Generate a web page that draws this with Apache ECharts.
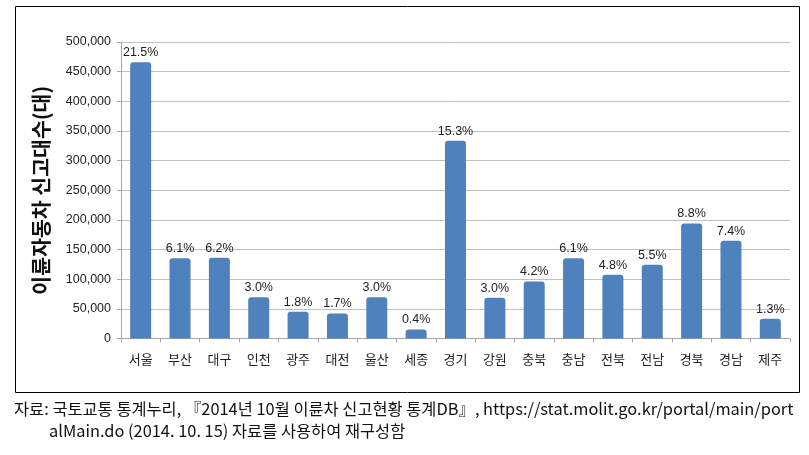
<!DOCTYPE html>
<html><head><meta charset="utf-8">
<script src="https://cdn.jsdelivr.net/npm/echarts@6/dist/echarts.min.js"></script>
<style>html,body{margin:0;padding:0;background:#fff}#c{width:809px;height:455px}</style>
</head><body><div id="c"></div>
<script>
var categories = ['서울','부산','대구','인천','광주','대전','울산','세종','경기','강원','충북','충남','전북','전남','경북','경남','제주'];
var counts = [466000,135400,136000,69600,45000,42200,69600,15200,333400,68600,96100,135400,107400,124300,194000,164800,33200];
var shares = ['21.5%','6.1%','6.2%','3.0%','1.8%','1.7%','3.0%','0.4%','15.3%','3.0%','4.2%','6.1%','4.8%','5.5%','8.8%','7.4%','1.3%'];
var yTitle = '이륜자동차 신고대수(대)';
var caption1 = '자료: 국토교통 통계누리, 『2014년 10월 이륜차 신고현황 통계DB』, https://stat.molit.go.kr/portal/main/port';
var caption2 = 'alMain.do (2014. 10. 15) 자료를 사용하여 재구성함';

var chart = echarts.init(document.getElementById('c'), null, {renderer:'canvas'});
var capFont = '"Noto Sans CJK KR",sans-serif';
chart.setOption({
  animation:false,
  grid:{left:121,right:19,top:42,bottom:116.5},
  xAxis:{type:'category',data:categories,
    axisLine:{lineStyle:{color:'#a6a6a6'}},
    axisTick:{show:true,alignWithLabel:false,length:4,lineStyle:{color:'#a6a6a6'}},
    axisLabel:{color:'#222',fontSize:13,margin:14,fontFamily:'"Noto Sans CJK KR",sans-serif'}},
  yAxis:{type:'value',min:0,max:500000,interval:50000,
    name:yTitle,nameLocation:'middle',nameRotate:90,nameGap:70,
    nameTextStyle:{fontSize:20.5,fontWeight:'bold',color:'#111',fontFamily:'"Noto Sans CJK KR",sans-serif'},
    axisLine:{show:true,lineStyle:{color:'#a6a6a6'}},
    axisTick:{show:true,length:4,inside:false,lineStyle:{color:'#a6a6a6'}},
    splitLine:{lineStyle:{color:'#c0c0c0'}},
    axisLabel:{color:'#222',fontSize:12.5,margin:10,fontFamily:'"Liberation Sans",Arial,sans-serif',
      formatter:function(v){return v.toLocaleString('en-US');}}},
  series:[{type:'bar',data:counts,barWidth:21,
    itemStyle:{color:'#4f81bd',borderRadius:[3,3,0,0]},
    label:{show:true,position:'top',distance:3,color:'#222',fontSize:12.5,fontFamily:'"Liberation Sans",Arial,sans-serif',
      formatter:function(p){return shares[p.dataIndex];}}}],
  graphic:[
    {type:'rect',shape:{x:15.5,y:6.5,width:784,height:386},style:{fill:null,stroke:'#000',lineWidth:1},silent:true},
    {type:'text',left:14,top:401,style:{text:caption1,fill:'#111',font:'16.4px '+capFont}},
    {type:'text',left:49,top:423,style:{text:caption2,fill:'#111',font:'16.4px '+capFont}}
  ]
});
</script></body></html>
